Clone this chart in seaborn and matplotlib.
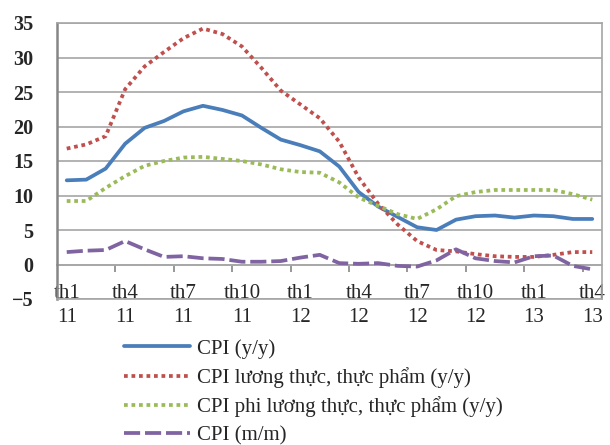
import pandas as pd
import seaborn as sns
import numpy as np
import matplotlib.pyplot as plt

# Monthly CPI data, th1/2011 .. th4/2013
months = list(range(28))
cpi_yy = [12.2, 12.3, 13.9, 17.5, 19.8, 20.8, 22.2, 23.0, 22.4, 21.6, 19.8, 18.1,
          17.3, 16.4, 14.2, 10.5, 8.4, 6.9, 5.4, 5.0, 6.5, 7.0, 7.1, 6.8,
          7.1, 7.0, 6.6, 6.6]
cpi_food = [16.8, 17.4, 18.6, 25.4, 28.7, 30.8, 32.8, 34.2, 33.4, 31.6, 28.5, 25.2,
            23.2, 21.2, 17.8, 12.6, 8.8, 5.8, 3.4, 2.1, 1.9, 1.5, 1.2, 1.1,
            1.1, 1.4, 1.8, 1.8]
cpi_nonfood = [9.2, 9.2, 11.1, 12.8, 14.3, 15.0, 15.5, 15.6, 15.3, 15.0, 14.5, 13.8,
               13.4, 13.3, 11.9, 9.7, 8.5, 7.3, 6.6, 8.0, 9.9, 10.5, 10.8, 10.8,
               10.8, 10.8, 10.2, 9.4]
cpi_mm = [1.8, 2.0, 2.1, 3.4, 2.2, 1.1, 1.2, 0.9, 0.8, 0.4, 0.4, 0.5,
          1.0, 1.4, 0.2, 0.1, 0.2, -0.2, -0.3, 0.6, 2.2, 0.9, 0.5, 0.3,
          1.2, 1.3, -0.2, -0.7]

tick_labels = ["th1\n11", "th4\n11", "th7\n11", "th10\n11", "th1\n12",
               "th4\n12", "th7\n12", "th10\n12", "th1\n13", "th4\n13"]

names = ["CPI (y/y)", "CPI lương thực, thực phẩm (y/y)",
         "CPI phi lương thực, thực phẩm (y/y)", "CPI (m/m)"]
colors = ["#4A7EBB", "#C0504D", "#9BBB59", "#8064A2"]

df = pd.DataFrame({"month": months, names[0]: cpi_yy, names[1]: cpi_food,
                   names[2]: cpi_nonfood, names[3]: cpi_mm})
df_long = df.melt(id_vars="month", var_name="series", value_name="value")

sns.set_style("white")
plt.rcParams['font.family'] = ['Liberation Serif', 'DejaVu Serif']

fig = plt.figure(figsize=(6.1, 4.45), dpi=100)
ax = fig.add_axes([57/610, 1 - 299/445, 545/610, 276/445])

sns.lineplot(data=df_long, x="month", y="value", hue="series", style="series",
             palette=dict(zip(names, colors)),
             dashes={names[0]: "", names[1]: (1, 1), names[2]: (1, 1), names[3]: (4.3, 1.3)},
             linewidth=2.7, legend=False, ax=ax, sort=False)

for ln in ax.lines:
    ln.set_solid_joinstyle("round")

ax.set_xlim(-0.5, 27.5)
ax.set_ylim(-5, 35)
ax.set_yticks(range(-5, 36, 5))
ax.set_xticks(months[::3])
ax.set_xticklabels(tick_labels, fontsize=15, linespacing=1.4)
ax.set_xlabel("")
ax.set_ylabel("")
ax.grid(axis="y", color="#A6A6A6", linewidth=1.2)
ax.grid(axis="x", visible=False)
ax.tick_params(axis="x", length=0, pad=-11)
ax.tick_params(axis="y", length=0, pad=17, labelsize=14.5)
for t in ax.get_yticklabels():
    t.set_fontweight("bold")

for s in ["top", "right", "bottom"]:
    ax.spines[s].set_color("#A6A6A6")
    ax.spines[s].set_linewidth(1.2)
ax.spines["left"].set_color("#868686")
ax.spines["left"].set_linewidth(1.8)

# tick marks hanging from the zero line, between categories
sec = ax.secondary_xaxis(0.125)
sec.set_xticks(np.arange(2.5, 27, 3))
sec.tick_params(length=5, width=1.2, color="#868686", labelbottom=False)
sec.spines["bottom"].set_color("#A6A6A6")
sec.spines["bottom"].set_linewidth(1.2)

fig.legend(handles=ax.lines[:4], labels=names, loc="upper left",
           bbox_to_anchor=(124/610, 1 - 339/445), frameon=False,
           fontsize=15, handlelength=3.15, handletextpad=0.35,
           labelspacing=0.4, borderpad=0, borderaxespad=0)

fig.savefig("out.png", dpi=100)
